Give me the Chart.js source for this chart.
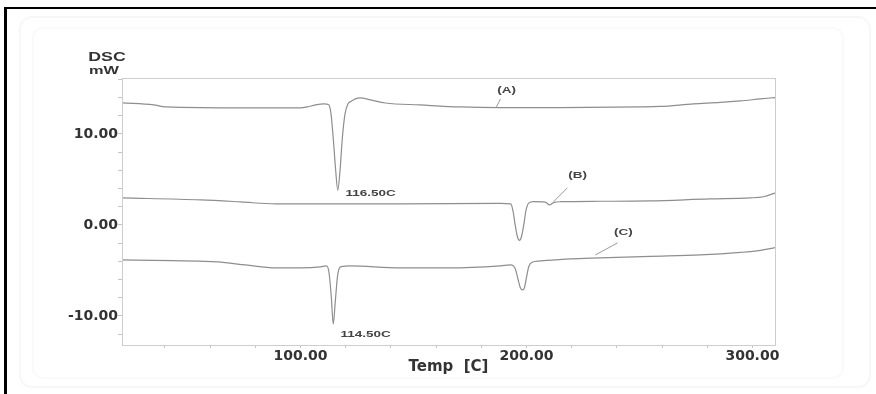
<!DOCTYPE html>
<html>
<head>
<meta charset="utf-8">
<script src="https://cdn.jsdelivr.net/npm/chart.js@4/dist/chart.umd.min.js"></script>
<style>
  html, body { margin: 0; padding: 0; background: #fff; }
  canvas { display: block; }
</style>
</head>
<body>
<canvas id="dsc" width="876" height="394"></canvas>
<script>
// curve (A)
const tempA = [21, 35, 40.3, 76.5, 100, 103, 106.6, 110.5, 112.5, 113.5, 114.5, 115.5, 116.5, 117.5, 118.5, 119.7, 121, 122.5, 124.3, 126.5, 131, 137.6, 153, 170.8, 188.5, 215, 250.4, 259.3, 273.9, 285.8, 294.7, 303.5, 310];
const dscA = [13.41, 13.19, 12.97, 12.86, 12.86, 12.97, 13.19, 13.3, 13.2, 12.2, 9.5, 6.2, 3.8, 6.0, 9.5, 12.2, 13.3, 13.6, 13.85, 13.96, 13.74, 13.4, 13.19, 12.97, 12.9, 12.9, 12.97, 13.02, 13.3, 13.46, 13.63, 13.85, 14.0];

// curve (B)
const tempB = [21, 55.8, 73.5, 88.9, 100, 144, 188.5, 193, 194, 195, 196, 196.9, 197.8, 198.8, 199.8, 201, 203, 208.4, 210.2, 212, 215, 232.3, 254.4, 281, 299, 304.9, 310];
const dscB = [2.97, 2.75, 2.53, 2.31, 2.31, 2.31, 2.36, 2.31, 1.6, 0.0, -1.3, -1.7, -1.3, 0.0, 1.6, 2.4, 2.55, 2.5, 2.2, 2.45, 2.55, 2.6, 2.64, 2.86, 2.97, 3.1, 3.5];

// curve (C)
const tempC = [21, 63.3, 75.7, 88.9, 100, 108.8, 111.5, 112.6, 113.6, 114.5, 115.4, 116.4, 117.5, 119, 121.7, 144, 166, 188.5, 193, 195, 196.3, 197.3, 198.2, 199.1, 200, 201, 202.5, 206, 219.5, 232.7, 254.9, 277, 294.7, 303.5, 310];
const dscC = [-3.85, -4.07, -4.4, -4.73, -4.73, -4.62, -4.5, -5.2, -7.8, -10.9, -8.4, -5.6, -4.65, -4.55, -4.5, -4.73, -4.73, -4.5, -4.4, -4.8, -6.0, -6.9, -7.15, -6.9, -5.8, -4.6, -4.1, -3.96, -3.74, -3.63, -3.46, -3.3, -3.02, -2.8, -2.5];

// axes
const xTicks = [40, 60, 80, 100, 120, 140, 160, 180, 200, 220, 240, 260, 280, 300];
const xLabelled = [100, 200, 300];
const yTicks = [-12, -10, -8, -6, -4, -2, 0, 2, 4, 6, 8, 10, 12, 14, 16];
const yLabelled = [-10, 0, 10];

// annotations
const noteTexts = ['(A)', '(B)', '(C)', '116.50C', '114.50C'];
const noteTemps = [191.2, 222.6, 242.9, 119.9, 117.7];
const noteValues = [14.8, 5.5, -0.77, 3.5, -12.0];
const leaderFromT = [186.7, 211.9, 230.5];
const leaderFromV = [12.97, 2.53, -3.3];
const leaderToT = [188.5, 218.1, 240.3];
const leaderToV = [13.85, 4.07, -1.98];

const toPoints = (xs, ys) => xs.map((x, i) => ({ x: x, y: ys[i] }));

const lineStyle = {
    borderColor: '#8e8e8e',
    borderWidth: 1.2,
    pointRadius: 0,
    fill: false,
    cubicInterpolationMode: 'monotone',
};

const framePlugin = {
    id: 'frame',
    beforeDraw(chart) {
        const { ctx, width, height } = chart;
        ctx.save();
        ctx.fillStyle = '#fff';
        ctx.fillRect(0, 0, width, height);
        // faint scanned panel edges
        ctx.strokeStyle = '#f7f7f7';
        ctx.lineWidth = 2;
        ctx.beginPath();
        ctx.roundRect(20, 17, 850, 370, 12);
        ctx.stroke();
        ctx.strokeStyle = '#fafafa';
        ctx.beginPath();
        ctx.roundRect(33, 28, 810, 350, 10);
        ctx.stroke();
        // black frame, left and top
        ctx.fillStyle = '#000';
        ctx.fillRect(4, 7, 3, height - 7);
        ctx.fillRect(4, 7, width - 4, 2);
        ctx.restore();
    },
    afterDraw(chart) {
        const { ctx, chartArea: { left, top, width, height }, scales: { x, y } } = chart;
        ctx.save();
        ctx.strokeStyle = '#cdcdcd';
        ctx.lineWidth = 1;
        ctx.strokeRect(left + 0.5, top + 0.5, width, height);

        // leader lines
        ctx.strokeStyle = '#9a9a9a';
        leaderFromT.forEach((t, i) => {
            ctx.beginPath();
            ctx.moveTo(x.getPixelForValue(t), y.getPixelForValue(leaderFromV[i]));
            ctx.lineTo(x.getPixelForValue(leaderToT[i]), y.getPixelForValue(leaderToV[i]));
            ctx.stroke();
        });

        const stretched = (text, px, py, size, align) => {
            ctx.save();
            ctx.translate(px, py);
            ctx.scale(1.42, 1);
            ctx.font = 'bold ' + size + 'px "Liberation Sans", Arial, sans-serif';
            ctx.textAlign = align;
            ctx.textBaseline = 'middle';
            ctx.fillText(text, 0, 0);
            ctx.restore();
        };

        ctx.fillStyle = '#444';
        noteTexts.forEach((txt, i) => {
            const align = txt.startsWith('(') ? 'center' : 'left';
            stretched(txt, x.getPixelForValue(noteTemps[i]), y.getPixelForValue(noteValues[i]), 9.5, align);
        });

        ctx.fillStyle = '#333';
        stretched('DSC', left - 15, top - 20, 12.5, 'center');
        stretched('mW', left - 18, top - 7, 11.5, 'center');
        ctx.restore();
    },
};

const tickFont = { family: '"DejaVu Sans", sans-serif', size: 14, weight: 'bold' };

new Chart(document.getElementById('dsc'), {
    type: 'line',
    data: {
        datasets: [
            { ...lineStyle, data: toPoints(tempA, dscA) },
            { ...lineStyle, data: toPoints(tempB, dscB) },
            { ...lineStyle, data: toPoints(tempC, dscC) },
        ],
    },
    options: {
        responsive: false,
        animation: false,
        devicePixelRatio: 1,
        layout: { padding: { left: 0, top: 78, right: 101, bottom: 0 } },
        plugins: {
            legend: { display: false },
            tooltip: { enabled: false },
        },
        scales: {
            x: {
                type: 'linear',
                min: 21,
                max: 310,
                afterBuildTicks: (axis) => { axis.ticks = xTicks.map(v => ({ value: v })); },
                afterFit: (axis) => { axis.height = 49; },
                grid: { drawOnChartArea: false, tickLength: 3, color: '#c4c4c4' },
                border: { color: '#cdcdcd' },
                ticks: {
                    padding: 0,
                    maxRotation: 0,
                    autoSkip: false,
                    color: '#333',
                    font: tickFont,
                    callback: (value) => xLabelled.includes(value) ? value.toFixed(2) : '',
                },
                title: {
                    display: true,
                    text: 'Temp  [C]',
                    color: '#333',
                    font: { family: '"DejaVu Sans", sans-serif', size: 15, weight: 'bold' },
                    padding: { top: 0, bottom: 18 },
                },
            },
            y: {
                min: -13.2,
                max: 16.15,
                afterBuildTicks: (axis) => { axis.ticks = yTicks.map(v => ({ value: v })); },
                afterFit: (axis) => { axis.width = 122; },
                grid: { drawOnChartArea: false, tickLength: 4, color: '#c4c4c4' },
                border: { color: '#cdcdcd' },
                ticks: {
                    padding: 0,
                    autoSkip: false,
                    color: '#333',
                    font: tickFont,
                    callback: (value) => yLabelled.includes(value) ? value.toFixed(2) : '',
                },
            },
        },
    },
    plugins: [framePlugin],
});
</script>
</body>
</html>
